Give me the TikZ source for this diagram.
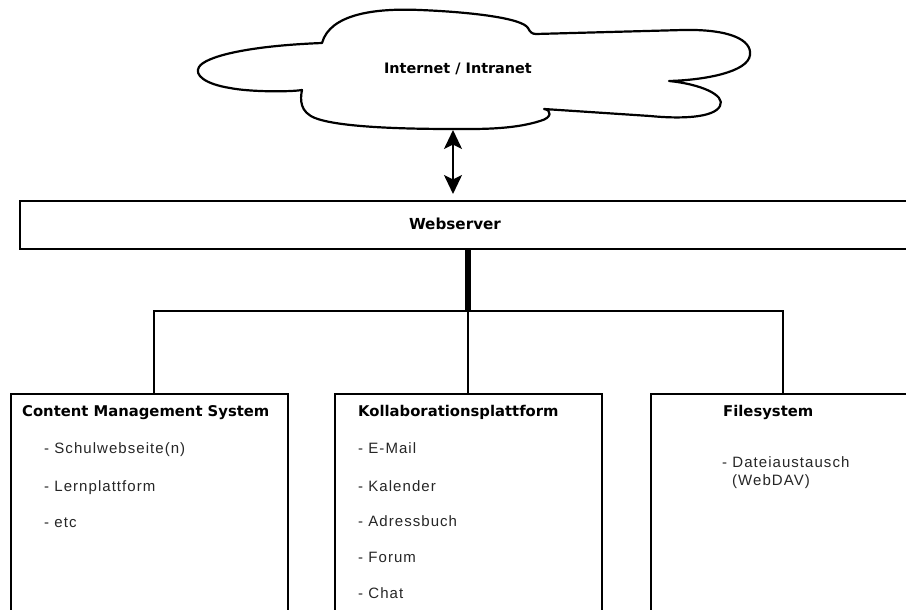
\documentclass[tikz,border=0pt]{standalone}
\usepackage{fontspec}
\usetikzlibrary{arrows.meta}
\newfontfamily\tfont{DejaVu Sans}
\newfontfamily\ifont{Liberation Sans}[LetterSpace=7]
\begin{document}
\begin{tikzpicture}[x=1pt,y=-1pt,
  boxstyle/.style={draw=black,line width=2.2pt,fill=white,rectangle,inner sep=0pt,anchor=north west},
  ttl/.style={font=\tfont\bfseries\fontsize{14.8}{17}\selectfont,inner sep=0pt,anchor=base west},
  itm/.style={font=\ifont\fontsize{15}{18}\selectfont,text=black!85,inner sep=0pt,anchor=base west,align=left},
  conn/.style={line width=2.2pt,line cap=rect},
  tip/.tip={Stealth[length=19pt,width=18pt,inset=4.5pt]}]
\useasboundingbox (0,0) rectangle (906,610);
\clip (0,0) rectangle (906,610);
\fill[white] (0,0) rectangle (906,610);
% cloud
\draw[line width=2.2pt,fill=white,line join=round]
  (322,43) .. controls (330,14) and (375,8) .. (420,10)
  .. controls (470,12) and (522,18) .. (528,28)
  .. controls (530,32) and (532,34) .. (536,34)
  -- (683,30)
  .. controls (730,29) and (752,40) .. (750,55)
  .. controls (748,72) and (705,80) .. (669,81)
  .. controls (700,84) and (726,95) .. (720,106)
  .. controls (714,118) and (680,119) .. (650,116)
  -- (544,109)
  .. controls (552,110) and (552,118) .. (540,121)
  .. controls (512,130) and (475,129) .. (453,129)
  .. controls (400,129) and (338,127) .. (315,118)
  .. controls (300,112) and (300,100) .. (302,90)
  .. controls (290,92) and (250,92) .. (230,88)
  .. controls (205,84) and (194,75) .. (199,67)
  .. controls (205,57) and (245,46) .. (322,43) -- cycle;
\node[ttl,anchor=base,font=\tfont\bfseries\fontsize{14.4}{17}\selectfont] (net) at (458,74) {Internet / Intranet};
\coordinate (cloudbottom) at (453,130);
% webserver
\node[boxstyle,minimum width=1000pt,minimum height=48pt] (web) at (19,200) {};
\node[ttl,anchor=base,font=\tfont\bfseries\fontsize{15.2}{18}\selectfont] (webt) at (455,229) {Webserver};
\draw[line width=2pt,tip-tip]
  (cloudbottom) -- ([yshift=6pt]cloudbottom |- web.north);
% boxes
\node[boxstyle,minimum width=277pt,minimum height=300pt] (cms) at (10,393) {};
\node[boxstyle,minimum width=267pt,minimum height=300pt] (kol) at (334,393) {};
\node[boxstyle,minimum width=400pt,minimum height=300pt] (fs) at (650,393) {};
% connectors
\coordinate (hub) at (468,311);
\coordinate (hl) at (154,311);
\coordinate (hr) at (783,311);
\draw[line width=5.5pt] (web.south -| hub) -- (hub);
\draw[conn] (hl) -- (hr);
\draw[conn] (hl) -- (hl |- cms.north);
\draw[conn] (hub) -- (hub |- kol.north);
\draw[conn] (hr) -- (hr |- fs.north);
% CMS texts
\node[ttl] (cmst) at (22,416) {Content Management System};
\node[itm] (c1) at (44,453) {- Schulwebseite(n)};
\node[itm] (c2) at (44,491) {- Lernplattform};
\node[itm] (c3) at (44,527) {- etc};
% Kollab texts
\node[ttl] (kolt) at (358,416) {Kollaborationsplattform};
\node[itm] (k1) at (358,453) {- E-Mail};
\node[itm] (k2) at (358,491) {- Kalender};
\node[itm] (k3) at (358,526) {- Adressbuch};
\node[itm] (k4) at (358,562) {- Forum};
\node[itm] (k5) at (358,598) {- Chat};
% Filesystem texts
\node[ttl] (fst) at (723,416) {Filesystem};
\node[itm] (f1) at (722,467) {- Dateiaustausch};
\node[itm] (f2) at (732,485) {(WebDAV)};
\end{tikzpicture}
\end{document}
